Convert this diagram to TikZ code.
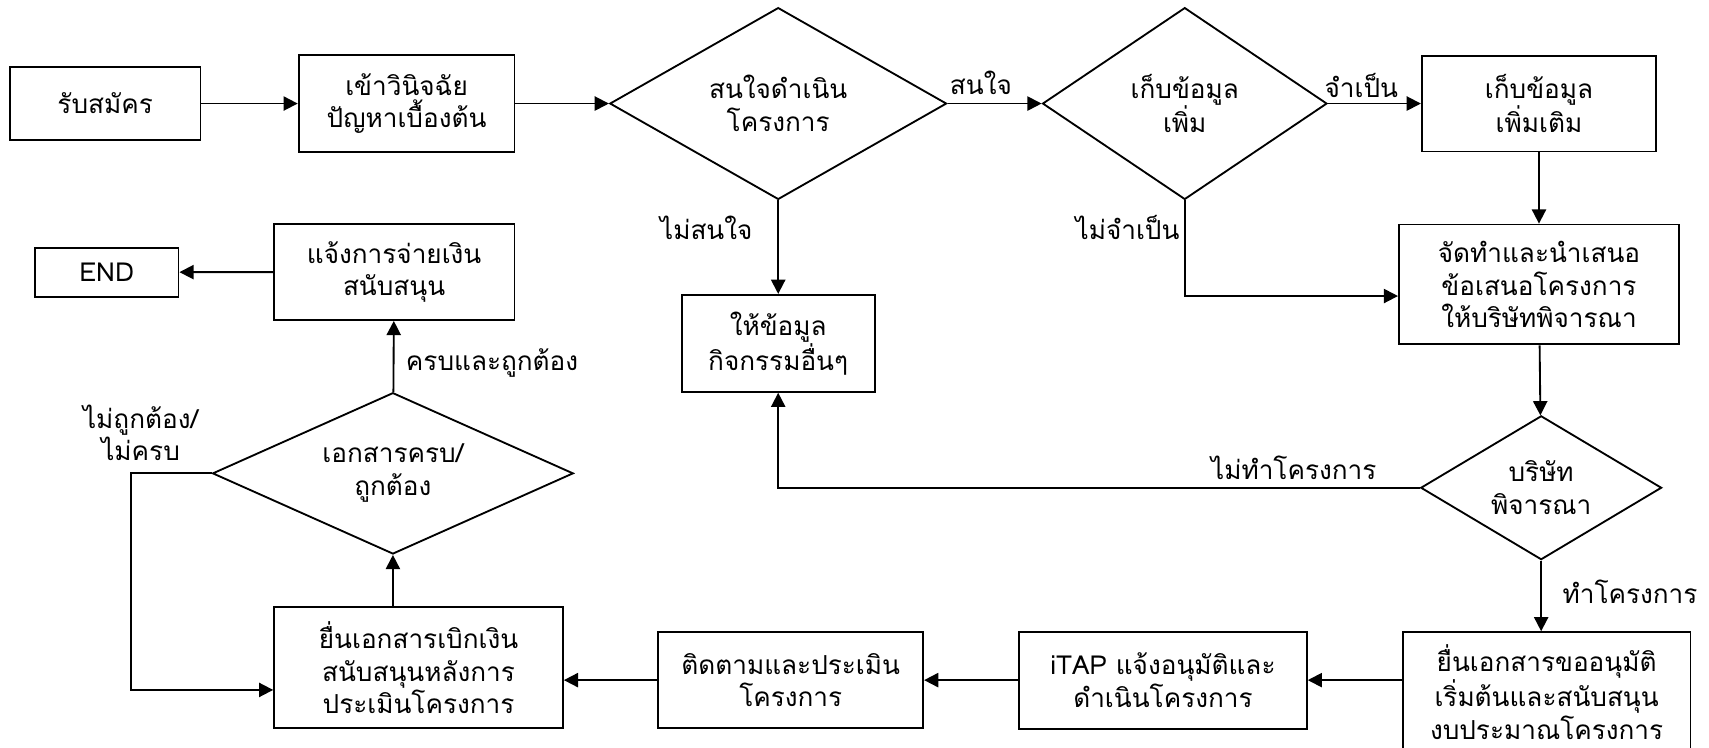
\documentclass[tikz,border=0pt]{standalone}
\usepackage{fontspec}
\setmainfont[Script=Thai]{Loma}
\usetikzlibrary{shapes.geometric,arrows.meta}
\begin{document}
\begin{tikzpicture}[x=1pt,y=-1pt,line width=1.7pt,
    every node/.style={font=\fontsize{24}{30}\selectfont, align=center, inner sep=0pt},
    box/.style={rectangle, draw},
    dia/.style={diamond, draw},
    arr/.style={-{Triangle[length=13pt,width=13pt]}}]
      \useasboundingbox (0,0) rectangle (1568,686);
      \node (1) at (96.5,95) [box, minimum width=175, minimum height=67] {รับสมัคร};
      \node (2) at (373,95) [box, minimum width=198, minimum height=89] {เข้าวินิจฉัย\\ปัญหาเบื้องต้น};
      \node (3) at (714,95) [dia, minimum width=309, minimum height=176, aspect=1.75] {สนใจดำเนิน\\โครงการ};
      \node (4) at (1087,95) [dia, minimum width=261, minimum height=176, aspect=1.5] {เก็บข้อมูล\\เพิ่ม};
      \node (5) at (1412,95) [box, minimum width=215, minimum height=88] {เก็บข้อมูล\\เพิ่มเติม};
      \node (6) at (1412,261) [box, minimum width=257, minimum height=110] {จัดทำและนำเสนอ\\ข้อเสนอโครงการ\\ให้บริษัทพิจารณา};
      \node (7) at (1414,447.5) [dia, minimum width=221, minimum height=132, aspect=1.67] {บริษัท\\พิจารณา};
      \node (8) at (1419,635) [box, minimum width=264, minimum height=110] {ยื่นเอกสารขออนุมัติ\\เริ่มต้นและสนับสนุน\\งบประมาณโครงการ};
      \node (9) at (1067,624) [box, minimum width=264, minimum height=89] {iTAP แจ้งอนุมัติและ\\ดำเนินโครงการ};
      \node (10) at (725.5,624) [box, minimum width=243, minimum height=88] {ติดตามและประเมิน\\โครงการ};
      \node (11) at (384,612.8) [box, minimum width=265, minimum height=111] {ยื่นเอกสารเบิกเงิน\\สนับสนุนหลังการ\\ประเมินโครงการ};
      \node (12) at (360.5,434.3) [dia, minimum width=331, minimum height=148, aspect=2.2] {เอกสารครบ/\\ถูกต้อง};
      \node (13) at (361.6,249.6) [box, minimum width=221, minimum height=88] {แจ้งการจ่ายเงิน\\สนับสนุน};
      \node (14) at (97.8,249.7) [box, minimum width=132, minimum height=45] {END};
      \node (15) at (714,315) [box, minimum width=177, minimum height=89] {ให้ข้อมูล\\กิจกรรมอื่นๆ};
      % labels
      \node (l1) at (900,76) {สนใจ};
      \node (l2) at (1249,78) {จำเป็น};
      \node (l3) at (648,209) {ไม่สนใจ};
      \node (l4) at (1034.5,209) {ไม่จำเป็น};
      \node (l5) at (1187,429.5) {ไม่ทำโครงการ};
      \node (l6) at (1495.5,543) {ทำโครงการ};
      \node (l7) at (451.5,333) {ครบและถูกต้อง};
      \node (l8) at (129,397) {ไม่ถูกต้อง/\\ไม่ครบ};
      \coordinate (c1) at (120,434.3);
      \foreach \source/\dest in {1/2, 2/3, 3/4, 4/5, 5/6, 3/15, 6/7, 9/10, 12/13, 13/14}
        \path[arr] (\source) edge (\dest);
      \draw[arr] (4.south) |- ([yshift=-10.6pt]6.west);
      \draw[arr] (7.west) -| (15.south);
      \draw[arr] (7.south) -- (7.south |- 8.north);
      \draw[arr] (9.east -| 8.west) -- (9.east);
      \draw[arr] (10.west) -- (10.west -| 11.east);
      \draw[arr] (12.south |- 11.north) -- (12.south);
      \draw[arr] (12.west) -- (c1) |- ([yshift=-20.2pt]11.west);
    \end{tikzpicture}
\end{document}
